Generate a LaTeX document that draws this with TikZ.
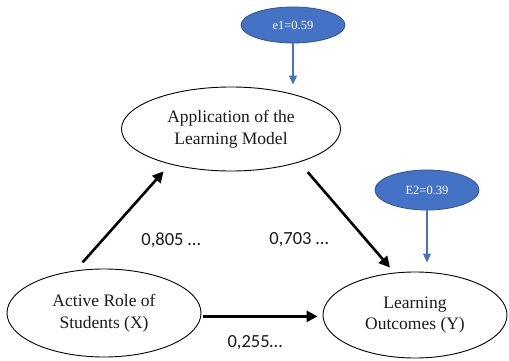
\documentclass[tikz,border=0pt]{standalone}
\usepackage{fontspec}
\setmainfont{Liberation Serif}
\newfontfamily\labfont{Carlito}
\usetikzlibrary{shapes.geometric,arrows.meta}
\definecolor{offblue}{HTML}{4472C4}
\definecolor{offblueedge}{HTML}{2F528F}
\definecolor{txtgray}{HTML}{1A1A1A}
\begin{document}
\begin{tikzpicture}[x=1pt,y=-1pt,
  var/.style={ellipse, draw=black, line width=0.9pt, inner sep=0pt, align=center,
    text=txtgray, font=\fontsize{17.5}{21.5}\selectfont},
  err/.style={ellipse, draw=offblueedge, line width=0.8pt, fill=offblue, inner sep=0pt,
    text=white, font=\fontsize{12.5}{14}\selectfont},
  coef/.style={font=\labfont\fontsize{18.5}{20}\selectfont, text=txtgray, inner sep=0pt},
  big/.style={line width=2.6pt, -{Triangle[length=11pt,width=11pt]}},
  blu/.style={line width=1.1pt, draw=offblue, -{Triangle[length=9pt,width=8pt]}}
]
\useasboundingbox (0,0) rectangle (509,361);
\fill[white] (0,0) rectangle (509,361);

\node[var, minimum width=219pt, minimum height=84pt] (M) at (231,129) {Application of the\\Learning Model};
\node[var, minimum width=194pt, minimum height=88pt] (X) at (104,313) {Active Role of\\Students (X)};
\node[var, minimum width=184pt, minimum height=86pt] (Y) at (415,315) {Learning\\Outcomes (Y)};
\node[err, minimum width=104pt, minimum height=36pt] (e1) at (293,25) {e1=0.59};
\node[err, minimum width=104pt, minimum height=40pt] (E2) at (427,190) {E2=0.39};

\node[coef] (c1) at (171,240) {0,805 …};
\node[coef] (c2) at (299,240) {0,703 …};
\node[coef] (c3) at (255,343) {0,255…};

\draw[big, shorten <=10.9pt, shorten >=9.5pt] (X.124) -- (M.210);
\draw[big, shorten <=13pt, shorten >=6.7pt] (M.334) -- (Y.116);
\draw[big, shorten <=1.5pt, shorten >=5pt] (X.-2) -- (X.-2 -| Y.west);
\draw[blu, shorten >=2pt] (e1.south) -- (e1.south |- M.north);
\draw[blu, shorten >=9pt] (E2.south) -- (E2.south |- Y.north);
\end{tikzpicture}
\end{document}
